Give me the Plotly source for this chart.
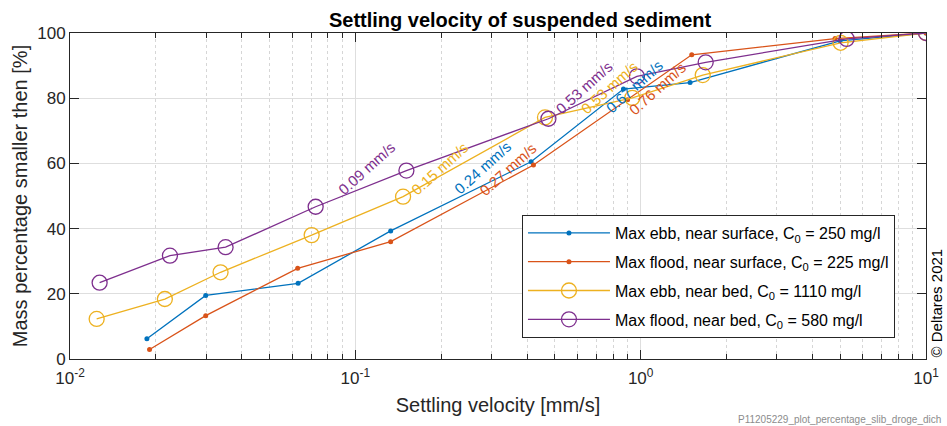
import math
import plotly.graph_objects as go

# ---------------- data ----------------
ebb_surf_x = [0.0186, 0.0299, 0.063, 0.133, 0.413, 0.87, 1.49, 5.0, 10.0]
ebb_surf_y = [6.2, 19.5, 23.2, 39.3, 60.5, 82.8, 84.8, 97.6, 100.0]

flood_surf_x = [0.019, 0.0299, 0.0628, 0.133, 0.421, 0.9, 1.51, 4.8, 10.0]
flood_surf_y = [2.9, 13.3, 27.8, 36.0, 59.5, 79.5, 93.3, 98.3, 100.0]

ebb_bed_x = [0.0124, 0.0215, 0.0337, 0.0703, 0.147, 0.462, 0.935, 1.65, 5.02, 10.0]
ebb_bed_y = [12.3, 18.4, 26.6, 38.0, 49.8, 74.1, 80.1, 87.1, 97.0, 100.0]

flood_bed_x = [0.0127, 0.0224, 0.0351, 0.0726, 0.151, 0.475, 0.97, 1.69, 5.27, 10.0]
flood_bed_y = [23.4, 31.7, 34.3, 46.7, 57.8, 73.7, 86.7, 91.0, 98.2, 100.0]

series_names = [
    "Max ebb, near surface, C<sub>0</sub> = 250 mg/l",
    "Max flood, near surface, C<sub>0</sub> = 225 mg/l",
    "Max ebb, near bed, C<sub>0</sub> = 1110 mg/l",
    "Max flood, near bed, C<sub>0</sub> = 580 mg/l",
]

# settling-velocity labels drawn along the curves
label_texts = ["0.24 mm/s", "0.27 mm/s", "0.15 mm/s", "0.09 mm/s",
               "0.67 mm/s", "0.76 mm/s", "0.53 mm/s", "0.53 mm/s"]
label_series = [0, 1, 2, 3, 0, 1, 2, 3]

x_tick_vals = [0.01, 0.1, 1, 10]
x_tick_text = ["10<sup>-2</sup>", "10<sup>-1</sup>", "10<sup>0</sup>", "10<sup>1</sup>"]

# ---------------- layout helpers (positions of labels, in axis units) ----------------
label_pos_x = [0.280, 0.342, 0.198, 0.1095, 0.948, 1.142, 0.775, 0.633]
label_pos_y = [58.6, 58.1, 58.3, 58.3, 83.7, 83.1, 83.4, 83.3]

colors = ["#0072BD", "#D95319", "#EDB120", "#7E2F8E"]
FONT = "Liberation Sans, Arial, Helvetica, sans-serif"
AX = "#262626"

xs = [ebb_surf_x, flood_surf_x, ebb_bed_x, flood_bed_x]
ys = [ebb_surf_y, flood_surf_y, ebb_bed_y, flood_bed_y]
markers = [
    dict(symbol="circle", size=5, color=colors[0]),
    dict(symbol="circle", size=5, color=colors[1]),
    dict(symbol="circle-open", size=15, color=colors[2], line=dict(width=1.3, color=colors[2])),
    dict(symbol="circle-open", size=15, color=colors[3], line=dict(width=1.3, color=colors[3])),
]

fig = go.Figure()
for i in range(4):
    fig.add_trace(go.Scatter(
        x=xs[i], y=ys[i], mode="lines+markers", name=series_names[i],
        line=dict(color=colors[i], width=1.3), marker=markers[i],
        legendgroup=f"g{i}",
    ))

annotations = []
for t, s, lx, ly in zip(label_texts, label_series, label_pos_x, label_pos_y):
    annotations.append(dict(
        x=math.log10(lx), y=ly, xref="x", yref="y", text=t, showarrow=False,
        textangle=-42, xanchor="center", yanchor="middle",
        font=dict(family=FONT, size=15, color=colors[s]),
    ))

annotations.append(dict(
    x=1.0128, y=0.0, xref="paper", yref="paper", text="© Deltares 2021",
    showarrow=False, textangle=-90, xanchor="center", yanchor="bottom",
    font=dict(family=FONT, size=15, color="#000000"),
))
annotations.append(dict(
    x=1.0199, y=-0.187, xref="paper", yref="paper",
    text="P11205229_plot_percentage_slib_droge_dich",
    showarrow=False, xanchor="right", yanchor="middle",
    font=dict(family=FONT, size=10, color="#8c8c8c"),
))

minor_vals = [m * 10 ** e for e in (-2, -1, 0) for m in range(2, 10)]

fig.update_layout(
    width=947, height=426,
    margin=dict(l=70, r=21, t=33, b=67),
    paper_bgcolor="white", plot_bgcolor="white",
    font=dict(family=FONT, color=AX),
    title=dict(text="<b>Settling velocity of suspended sediment</b>",
               x=0.5258, xanchor="center", xref="paper", y=0.952, yref="container", yanchor="middle",
               font=dict(family=FONT, size=20, color="#000000")),
    showlegend=True,
    legend=dict(
        x=0.528, y=0.4417, xanchor="left", yanchor="top",
        bgcolor="white", bordercolor=AX, borderwidth=1,
        font=dict(family=FONT, size=16, color="#000000"),
        itemwidth=82, tracegroupgap=5, traceorder="grouped",
    ),
    annotations=annotations,
)

fig.update_xaxes(
    type="log", range=[-2, 1], automargin=False,
    tickmode="array", tickvals=x_tick_vals, ticktext=x_tick_text,
    ticks="inside", ticklen=9, tickcolor=AX, tickwidth=1,
    showline=True, linecolor=AX, linewidth=1, mirror="ticks",
    showgrid=True, gridcolor="#dedede", gridwidth=1,
    tickfont=dict(family=FONT, size=17, color=AX), ticklabelstandoff=4,
    minor=dict(tickmode="array", tickvals=minor_vals, ticks="inside", ticklen=5,
               tickcolor=AX, showgrid=True, gridcolor="#d6d6d6", griddash="dot", gridwidth=1),
    title=dict(text="Settling velocity [mm/s]", font=dict(family=FONT, size=20, color=AX), standoff=10),
    zeroline=False,
)
fig.update_yaxes(
    range=[0, 100], tickmode="array", tickvals=[0, 20, 40, 60, 80, 100], automargin=False,
    ticks="inside", ticklen=9, tickcolor=AX, tickwidth=1,
    showline=True, linecolor=AX, linewidth=1, mirror="ticks",
    showgrid=True, gridcolor="#dedede", gridwidth=1,
    tickfont=dict(family=FONT, size=17, color=AX),
    title=dict(text="Mass percentage smaller then [%]", font=dict(family=FONT, size=20, color=AX), standoff=4),
    zeroline=False,
)

fig.write_html("out.html")
